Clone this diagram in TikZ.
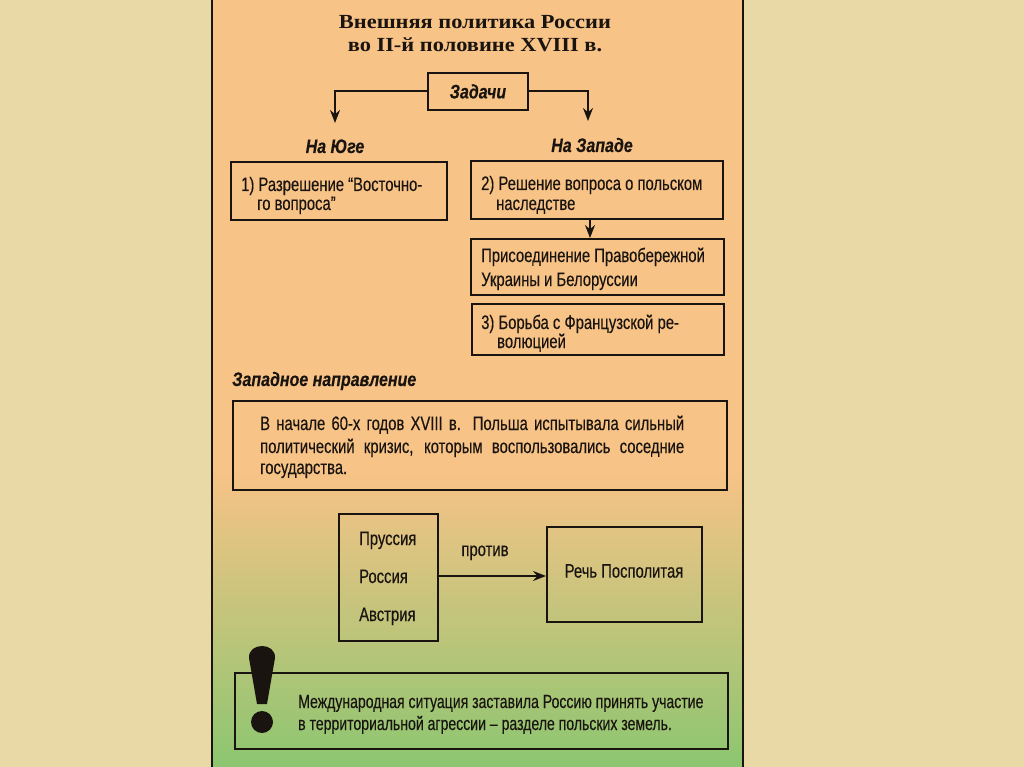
\documentclass[tikz,border=0pt]{standalone}
\usepackage{fontspec}
\setmainfont{Liberation Sans}
\newfontfamily\narrowfont[FakeStretch=0.76,FakeBold=0.25]{Liberation Sans}
\newfontfamily\tightfont[FakeStretch=0.74,FakeBold=0.25]{Liberation Sans}
\newfontfamily\labfont[FakeStretch=0.82,FakeBold=0.25]{Liberation Sans}
\newfontfamily\titlefont[FakeStretch=1.12]{Liberation Serif}
\usetikzlibrary{arrows.meta}
\definecolor{bgbeige}{RGB}{233,217,166}
\definecolor{peach}{RGB}{248,195,135}
\definecolor{midyel}{RGB}{222,205,128}
\definecolor{leaf}{RGB}{140,198,112}
\definecolor{ink}{RGB}{25,20,15}
\tikzset{
  box/.style={draw=ink, line width=1.8pt, inner sep=0pt, anchor=north west},
  txt/.style={font=\narrowfont\fontsize{19.5}{22}\selectfont, text=ink, inner sep=0pt, anchor=base west},
  ctxt/.style={font=\tightfont\fontsize{19}{22}\selectfont, text=ink, inner sep=0pt, anchor=base west},
  lab/.style={font=\labfont\bfseries\itshape\fontsize{19.5}{22}\selectfont, text=ink, inner sep=0pt, anchor=base},
  ttl/.style={font=\titlefont\bfseries\fontsize{20}{24}\selectfont, text=ink, inner sep=0pt, anchor=base},
  arr/.style={-{Stealth[length=13pt,width=10pt]}, line width=1.8pt, draw=ink},
}
\begin{document}
\begin{tikzpicture}[x=1pt,y=-1pt]
\useasboundingbox (0,0) rectangle (1024,767);
\fill[bgbeige] (0,0) rectangle (1024,767);
% panel
\fill[peach] (212,0) rectangle (743,470);
\shade[top color=peach, middle color=midyel, bottom color=leaf] (212,469.5) rectangle (743,767);
\draw[ink, line width=1.2pt] (212,0) -- (212,767) (743,0) -- (743,767);
% title
\node[ttl] (t1) at (475,29) {Внешняя политика России};
\node[ttl] (t2) at (475,52) {во II-й половине XVIII в.};
% tasks
\node[box, minimum width=100pt, minimum height=37pt] (z) at (427,72) {};
\node[lab] (zt) at (z.center) [anchor=center] {Задачи};
\coordinate (lj) at (335,123);
\coordinate (rj) at (588,121);
\draw[arr] (z.west) -| (lj);
\draw[arr] (z.east) -| (rj);
\node[lab] (south) at (335,153) {На Юге};
\node[lab] (west) at (592,152) {На Западе};
% box 1
\node[box, minimum width=216pt, minimum height=58pt] (b1) at (230,161) {};
\node[txt] (b1a) at (241,191) {1) Разрешение “Восточно-};
\node[txt] (b1b) at (257,210) {го вопроса”};
% box 2
\node[box, minimum width=252pt, minimum height=58pt] (b2) at (470,160) {};
\node[txt] (b2a) at (481,190) {2) Решение вопроса о польском};
\node[txt] (b2b) at (496,210) {наследстве};
% box 3
\node[box, minimum width=253pt, minimum height=56pt] (b3) at (470,238) {};
\node[txt] (b3a) at (481,262) {Присоединение Правобережной};
\node[txt] (b3b) at (481,286) {Украины и Белоруссии};
\coordinate (ax) at (590,0);
\draw[arr] (b2.south -| ax) -- (b3.north -| ax);
% box 4
\node[box, minimum width=252pt, minimum height=51pt] (b4) at (471,303) {};
\node[txt] (b4a) at (481,329) {3) Борьба с Французской ре-};
\node[txt] (b4b) at (497,348) {волюцией};
% western direction
\node[lab, anchor=base west] (wd) at (232,386) {Западное направление};
\node[box, minimum width=494pt, minimum height=89pt] (b5) at (232,400) {};
\node[txt] (b5a) at (260,430) {\makebox[424pt][s]{В начале 60-х годов XVIII в. Польша испытывала сильный}};
\node[txt] (b5b) at (260,453) {\makebox[424pt][s]{политический кризис, которым воспользовались соседние}};
\node[txt] (b5c) at (260,474) {государства.};
% powers
\node[box, minimum width=99pt, minimum height=127pt] (b6) at (338,513) {};
\node[txt] (p1) at (359,545) {Пруссия};
\node[txt] (p2) at (359,583) {Россия};
\node[txt] (p3) at (359,621) {Австрия};
\node[box, minimum width=155pt, minimum height=95pt] (b7) at (546,526) {};
\node[txt, anchor=center] (rp) at (624,571) {Речь Посполитая};
\coordinate (ay) at (0,576);
\draw[arr] (b6.east |- ay) -- (b7.west |- ay);
\node[txt, anchor=base] (pr) at (485,556) {против};
% conclusion
\node[box, minimum width=493pt, minimum height=76pt] (b8) at (234,672) {};
\node[ctxt] (c1) at (298,708) {Международная ситуация заставила Россию принять участие};
\node[ctxt] (c2) at (298,730) {в территориальной агрессии – разделе польских земель.};
\fill[ink] (249,658) .. controls (248,642) and (276,642) .. (275,658) -- (267,704) -- (257,704) -- cycle;
\fill[ink] (262,722) circle (11);
\end{tikzpicture}
\end{document}
